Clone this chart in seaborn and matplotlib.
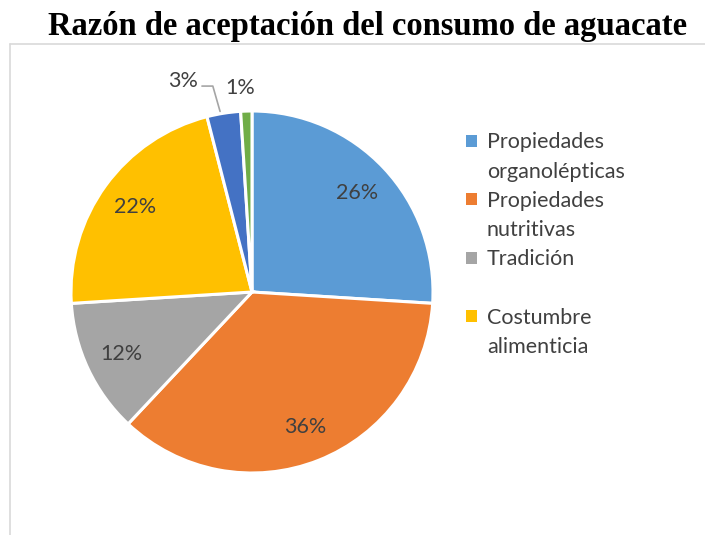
import matplotlib
matplotlib.use("Agg")
import matplotlib.pyplot as plt
import seaborn as sns
import numpy as np
from matplotlib.lines import Line2D
from matplotlib.patches import Patch

categories = ["Propiedades\norganolépticas", "Propiedades\nnutritivas", "Tradición\n ",
              "Costumbre\nalimenticia", "Otros", "Ninguna"]
values = [26, 36, 12, 22, 3, 1]
colors = ["#5B9BD5", "#ED7D31", "#A5A5A5", "#FFC000", "#4472C4", "#70AD47"]
title = "Razón de aceptación del consumo de aguacate"

sns.set_theme(style="white")
plt.rcParams['font.family'] = ['Lato', 'DejaVu Sans']
palette = sns.color_palette(colors)

W, H = 705, 535
fig = plt.figure(figsize=(W / 100, H / 100), dpi=100)

cx, cy, r = 252, 292, 181
ax = fig.add_axes([(cx - r) / W, (H - cy - r) / H, 2 * r / W, 2 * r / H])

wedges, _ = ax.pie(values, colors=palette, startangle=90, counterclock=False,
                   radius=1.0, wedgeprops=dict(edgecolor="white", linewidth=2.2))
ax.set_xlim(-1, 1)
ax.set_ylim(-1, 1)
ax.set_aspect("equal")
ax.axis("off")

txtcol = "#404040"
fs = 15.5
for i, w in enumerate(wedges):
    ang = np.deg2rad((w.theta1 + w.theta2) / 2)
    lab = f"{values[i]}%"
    if values[i] >= 10:
        d = 0.8
        ax.text(d * np.cos(ang), d * np.sin(ang), lab, ha="center", va="center",
                color=txtcol, fontsize=fs)
    elif i == 4:
        x0, y0 = np.cos(ang) - 0.02, np.sin(ang) + 0.01
        ax.plot([x0, x0 - 0.04, x0 - 0.10], [y0, y0 + 0.14, y0 + 0.14],
                color="#A5A5A5", lw=1.2, clip_on=False)
        ax.text(x0 - 0.12, y0 + 0.17, lab, ha="right", va="center",
                color=txtcol, fontsize=fs)
    else:
        d = 1.13
        ax.text(d * np.cos(np.deg2rad(93.4)), d * np.sin(np.deg2rad(93.4)), lab,
                ha="center", va="center", color=txtcol, fontsize=fs)

# legend: one row per text line, marker on the first line of each entry
handles, labels = [], []
for i in range(4):
    lines = categories[i].split("\n")
    for j, ln in enumerate(lines):
        if j == 0:
            handles.append(Patch(facecolor=palette[i], edgecolor="none"))
        else:
            handles.append(Patch(facecolor="none", edgecolor="none"))
        labels.append(ln if ln.strip() else " ")
leg = fig.legend(handles, labels, loc="upper left",
                 bbox_to_anchor=(460 / W, 1 - 126 / H), frameon=False,
                 fontsize=fs, handlelength=0.5, handleheight=0.5,
                 handletextpad=0.45, labelspacing=0.43, labelcolor=txtcol,
                 borderaxespad=0, borderpad=0.3)

fig.text(368 / W, 1 - 26 / H, title, ha="center", va="center",
         fontsize=23.5, fontweight="bold", family="Liberation Serif", color="black")

# chart area border
fig.add_artist(Line2D([10 / W, 10 / W], [0, 1 - 44 / H], transform=fig.transFigure,
                      color="#D9D9D9", lw=1.2))
fig.add_artist(Line2D([10 / W, 1], [1 - 44 / H, 1 - 44 / H], transform=fig.transFigure,
                      color="#D9D9D9", lw=1.2))

fig.savefig("out.png", dpi=100, facecolor="white")
